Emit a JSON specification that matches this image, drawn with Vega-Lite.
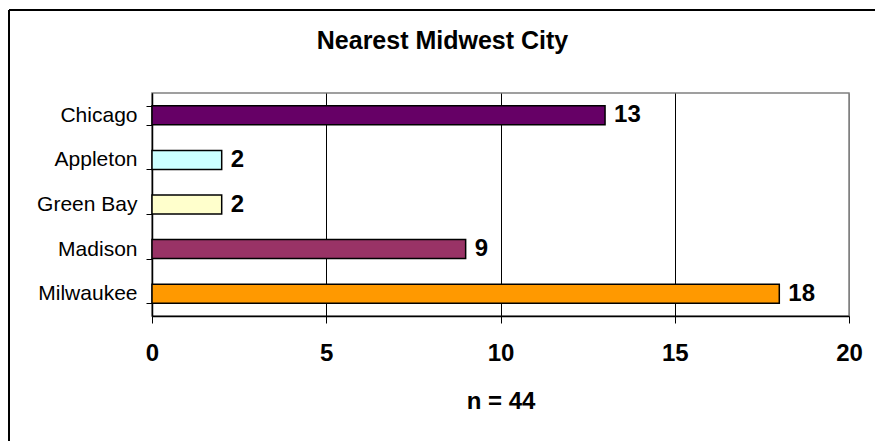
{
  "$schema": "https://vega.github.io/schema/vega-lite/v6.json",
  "autosize": "none",
  "width": 697,
  "height": 223,
  "padding": {"left": 152, "top": 93, "right": 26, "bottom": 125},
  "background": "white",
  "config": {
    "font": "Liberation Sans",
    "view": {"stroke": "#808080", "strokeWidth": 1.5}
  },
  "title": {
    "text": "Nearest Midwest City",
    "fontSize": 25,
    "fontWeight": "bold",
    "font": "Liberation Sans",
    "color": "black",
    "anchor": "middle",
    "frame": "group",
    "dx": -58,
    "dy": 45,
    "offset": 0
  },
  "data": {
    "values": [
      {"city": "Chicago", "count": 13},
      {"city": "Appleton", "count": 2},
      {"city": "Green Bay", "count": 2},
      {"city": "Madison", "count": 9},
      {"city": "Milwaukee", "count": 18}
    ]
  },
  "layer": [
    {
      "mark": {"type": "rule", "color": "black", "strokeWidth": 1.5, "clip": false},
      "encoding": {
        "x": {"datum": -4.1, "type": "quantitative", "scale": {"domain": [0, 20], "nice": false}},
        "x2": {"datum": 21.5},
        "y": {"datum": "Chicago", "type": "nominal", "bandPosition": -5.04}
      }
    },
    {
      "mark": {"type": "rule", "color": "black", "strokeWidth": 1.5, "clip": false},
      "encoding": {
        "x": {"datum": -4.1, "type": "quantitative"},
        "y": {"datum": "Chicago", "type": "nominal", "bandPosition": -5.04},
        "y2": {"datum": "Milwaukee", "bandPosition": 10}
      }
    },
    {
      "mark": {"type": "bar", "stroke": "black", "strokeWidth": 1.5},
      "encoding": {
        "y": {
          "field": "city",
          "type": "nominal",
          "sort": ["Chicago", "Appleton", "Green Bay", "Madison", "Milwaukee"],
          "scale": {"paddingInner": 0.574, "paddingOuter": 0.287},
          "axis": {
            "title": null,
            "domainColor": "black",
            "domainWidth": 1.5,
            "tickColor": "black",
            "tickWidth": 1,
            "tickSize": 6,
            "tickBand": "extent",
            "labelFontSize": 21,
            "labelColor": "black",
            "labelPadding": 9,
            "grid": false
          }
        },
        "x": {
          "field": "count",
          "type": "quantitative",
          "scale": {"domain": [0, 20], "nice": false},
          "axis": {
            "values": [0, 5, 10, 15, 20],
            "title": "n = 44",
            "titleFontSize": 24,
            "titleFontWeight": "bold",
            "titleColor": "black",
            "titlePadding": 24,
            "domainColor": "black",
            "domainWidth": 1.5,
            "tickColor": "black",
            "tickSize": 7,
            "labelFontSize": 24,
            "labelFontWeight": "bold",
            "labelColor": "black",
            "labelPadding": 18,
            "labelFlush": false,
            "grid": true,
            "gridColor": {"condition": {"test": "datum.value === 20", "value": "#808080"}, "value": "black"},
            "gridWidth": 1
          }
        },
        "color": {
          "field": "city",
          "type": "nominal",
          "scale": {
            "domain": ["Chicago", "Appleton", "Green Bay", "Madison", "Milwaukee"],
            "range": ["#660066", "#CCFFFF", "#FFFFCC", "#993366", "#FF9900"]
          },
          "legend": null
        }
      }
    },
    {
      "mark": {"type": "text", "align": "left", "baseline": "middle", "dx": 9, "fontSize": 24, "fontWeight": "bold", "color": "black"},
      "encoding": {
        "y": {"field": "city", "type": "nominal", "sort": ["Chicago", "Appleton", "Green Bay", "Madison", "Milwaukee"]},
        "x": {"field": "count", "type": "quantitative"},
        "text": {"field": "count", "type": "quantitative"}
      }
    }
  ]
}
